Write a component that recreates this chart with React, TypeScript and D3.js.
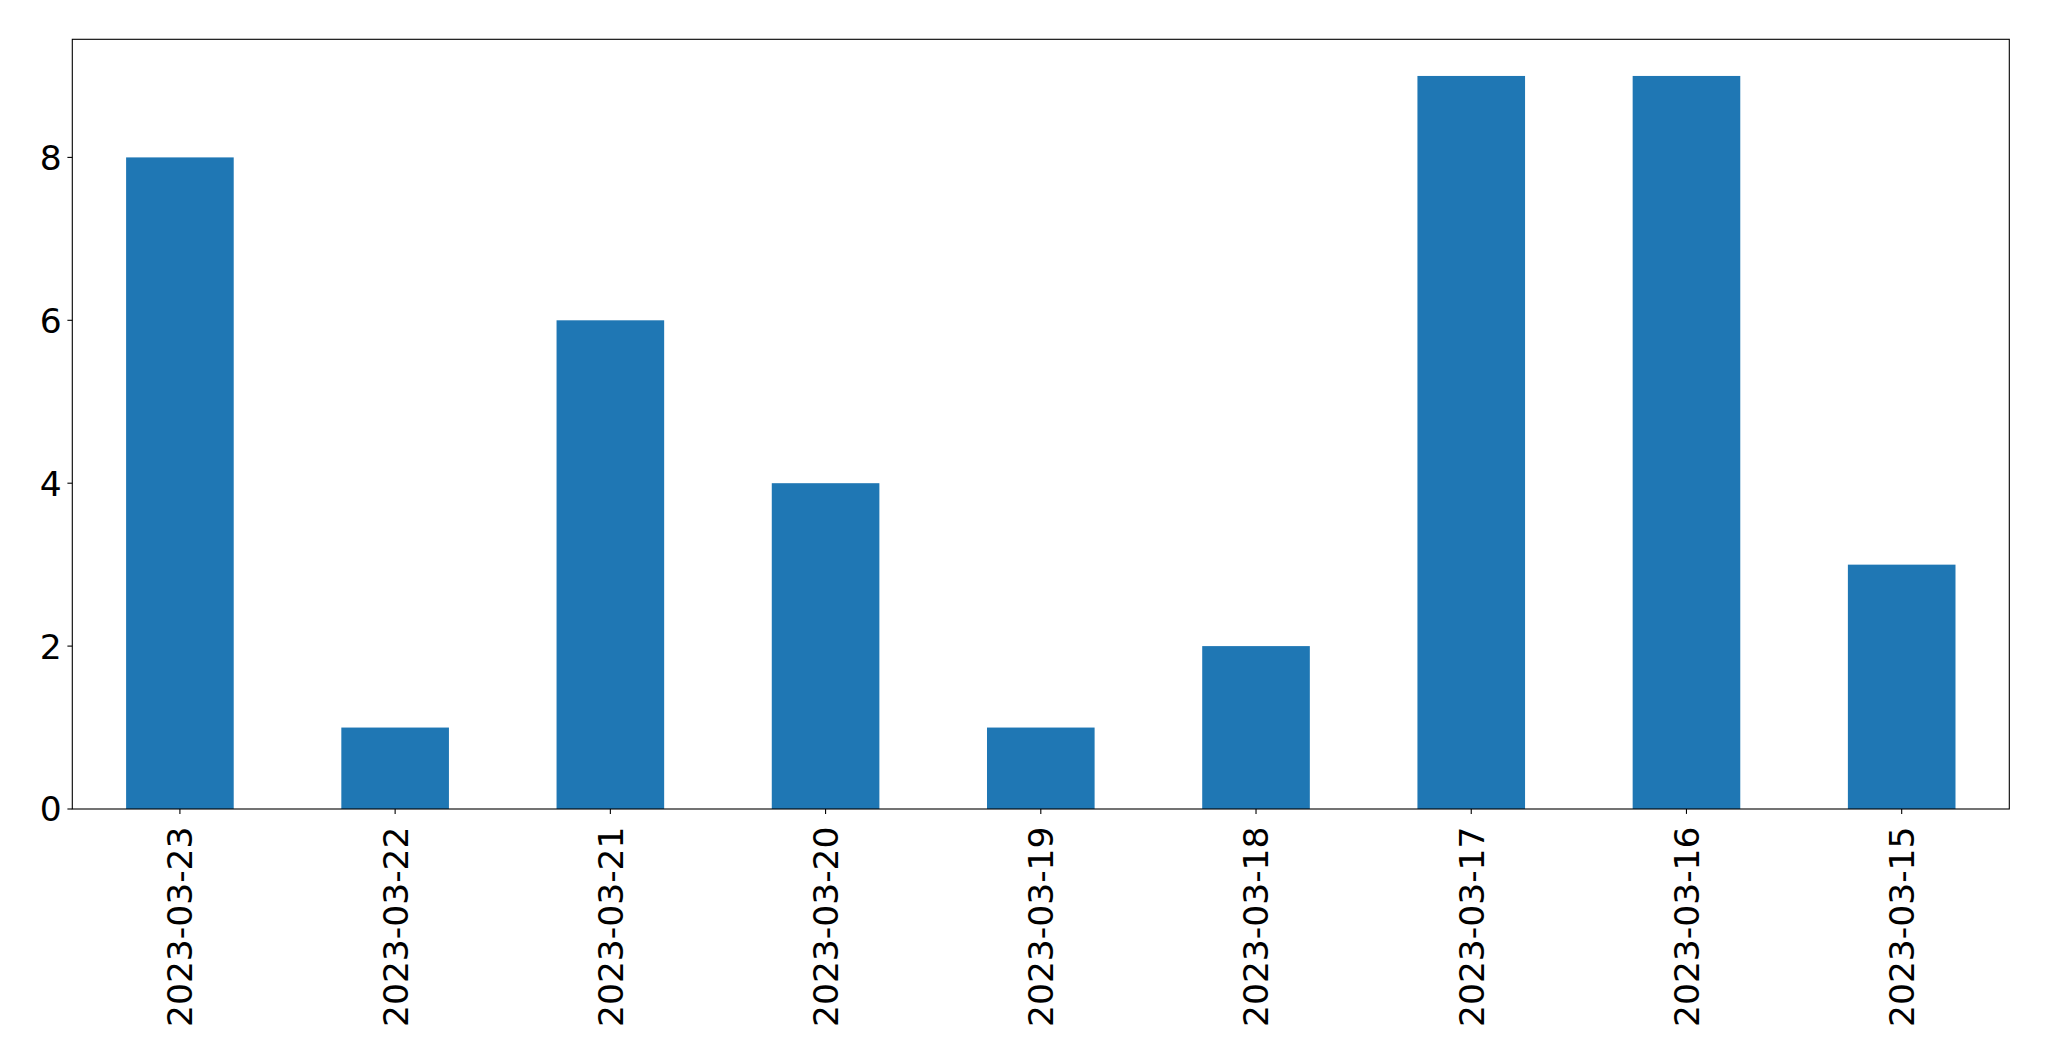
import React from "react";
import * as d3 from "d3";

const categories = ["2023-03-23", "2023-03-22", "2023-03-21", "2023-03-20", "2023-03-19", "2023-03-18", "2023-03-17", "2023-03-16", "2023-03-15"];
const values = [8, 1, 6, 4, 1, 2, 9, 9, 3];
const yTicks = [0, 2, 4, 6, 8];

export default function App() {
  const W = 2049, H = 1061;
  const left = 72.3, right = 2009.3, top = 39.3, bottom = 809;
  const n = categories.length;
  const x = d3.scaleLinear().domain([-0.5, n - 0.5]).range([left, right]);
  const y = d3.scaleLinear().domain([0, 9.45]).range([bottom, top]);
  const bw = x(0.25) - x(-0.25);
  const font = "DejaVu Sans, sans-serif";
  const fs = 34.5;
  return (
    <svg width={W} height={H} style={{ position: "absolute", left: 0, top: 0, background: "#fff" }}>
      <rect x={0} y={0} width={W} height={H} fill="#fff" />
      {values.map((v, i) => (
        <rect key={i} x={x(i) - bw / 2} y={y(v)} width={bw} height={y(0) - y(v)} fill="#1f77b4" />
      ))}
      <rect x={left} y={top} width={right - left} height={bottom - top} fill="none" stroke="#000" strokeWidth={1.1} />
      {yTicks.map((t) => (
        <g key={t}>
          <line x1={left - 4.9} x2={left} y1={y(t)} y2={y(t)} stroke="#000" strokeWidth={1.1} />
          <text x={left - 10.5} y={y(t)} dy="0.36em" textAnchor="end" fontFamily={font} fontSize={fs} fill="#000">{t}</text>
        </g>
      ))}
      {categories.map((c, i) => (
        <g key={c}>
          <line x1={x(i)} x2={x(i)} y1={bottom} y2={bottom + 4.9} stroke="#000" strokeWidth={1.1} />
          <text transform={`translate(${x(i)},${bottom + 17.5}) rotate(-90)`} dy="0.36em" textAnchor="end" fontFamily={font} fontSize={fs} fill="#000">{c}</text>
        </g>
      ))}
    </svg>
  );
}
